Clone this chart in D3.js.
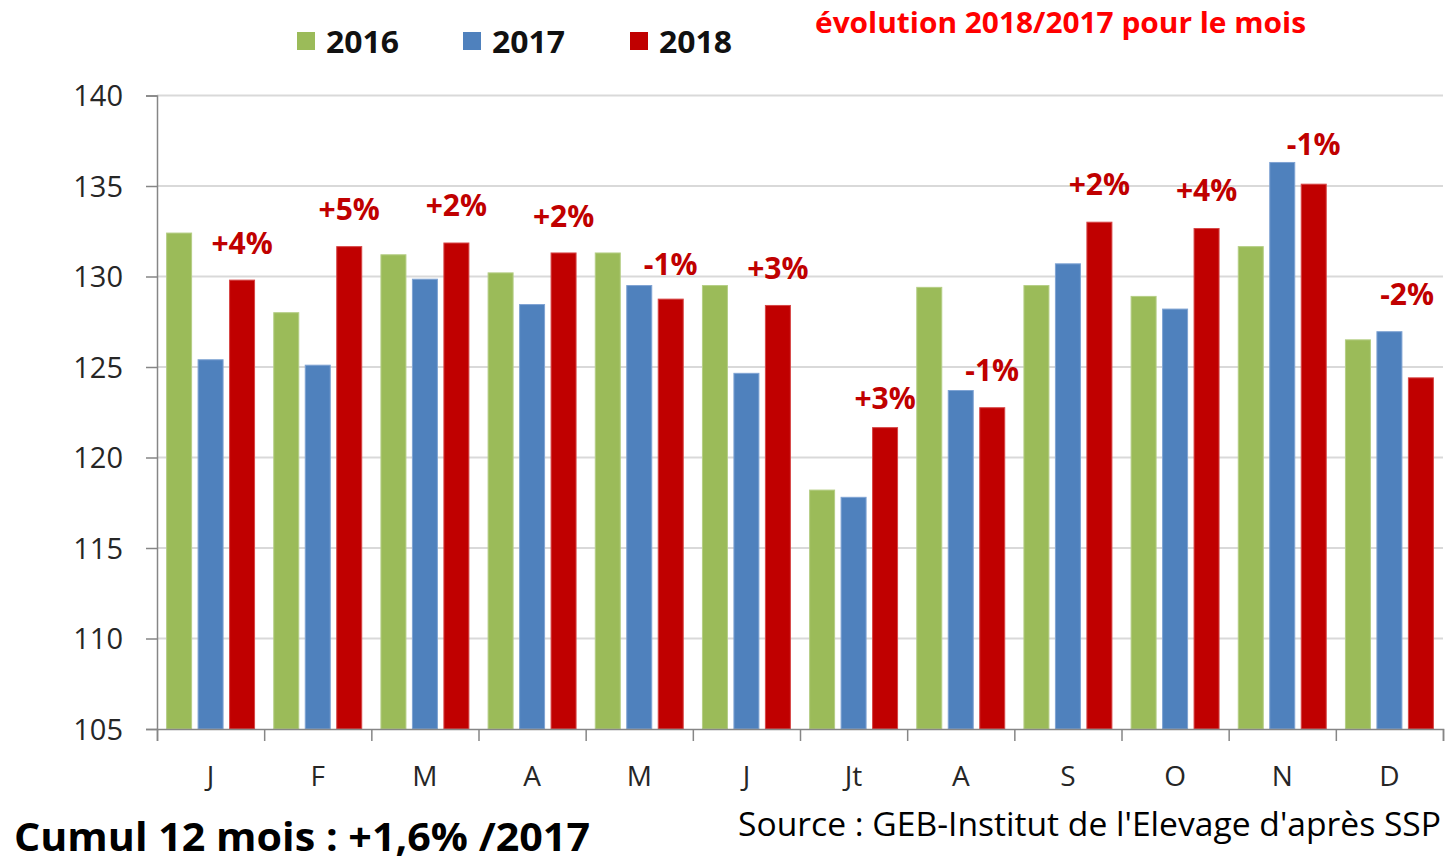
<!DOCTYPE html>
<html>
<head>
<meta charset="utf-8">
<script src="https://cdn.jsdelivr.net/npm/d3@7"></script>
<style>
  body { margin: 0; background: #fff; }
  svg { display: block; }
</style>
</head>
<body>
<svg width="1446" height="863"></svg>
<script>
// month labels (x axis)
let months = ["J", "F", "M", "A", "M", "J", "Jt", "A", "S", "O", "N", "D"];
let years = ["2016", "2017", "2018"];

// monthly values by year
let values2016 = [132.4, 128.0, 131.2, 130.2, 131.3, 129.5, 118.2, 129.4, 129.5, 128.9, 131.65, 126.5];
let values2017 = [125.4, 125.1, 129.85, 128.45, 129.5, 124.65, 117.8, 123.7, 130.7, 128.2, 136.3, 126.95];
let values2018 = [129.8, 131.65, 131.85, 131.3, 128.75, 128.4, 121.65, 122.75, 133.0, 132.65, 135.1, 124.4];

// evolution 2018/2017 labels and the level they sit at
let evoLabels = ["+4%", "+5%", "+2%", "+2%", "-1%", "+3%", "+3%", "-1%", "+2%", "+4%", "-1%", "-2%"];
let evoLevels = [131.25, 133.1, 133.35, 132.75, 130.1, 129.85, 122.7, 124.2, 134.5, 134.15, 136.7, 128.45];

let yTicks = [105, 110, 115, 120, 125, 130, 135, 140];

let colors = { "2016": "#9BBB59", "2017": "#4F81BD", "2018": "#C00000" };
let strokes = { "2016": "#B5CE85", "2017": "#7FA3D3", "2018": "#D64545" };

let svg = d3.select("svg");
let plotLeft = 157, plotRight = 1443, plotTop = 95.5, plotBottom = 729;
let font = "'Open Sans', sans-serif";

let x0 = d3.scaleBand().domain(d3.range(months.length)).range([plotLeft, plotRight]).padding(0);
let x1 = d3.scaleBand().domain(years).range([0, x0.bandwidth()]).paddingInner(0.206).paddingOuter(0.305);
let y = d3.scaleLinear().domain([105, 140]).range([plotBottom, plotTop]);

// gridlines
svg.append("g").selectAll("line").data(yTicks.filter(d => d > 105)).enter().append("line")
  .attr("x1", plotLeft).attr("x2", plotRight)
  .attr("y1", d => y(d)).attr("y2", d => y(d))
  .attr("stroke", "#D9D9D9").attr("stroke-width", 2);

// bars
let rows = months.map(function(m, i) {
  return { i: i, vals: [values2016[i], values2017[i], values2018[i]] };
});
let groups = svg.append("g").selectAll("g").data(rows).enter().append("g")
  .attr("transform", d => "translate(" + x0(d.i) + ",0)");
groups.selectAll("rect").data(d => d.vals.map((v, k) => ({ year: years[k], v: v }))).enter().append("rect")
  .attr("x", d => x1(d.year))
  .attr("width", x1.bandwidth())
  .attr("y", d => y(d.v))
  .attr("height", d => y(105) - y(d.v))
  .attr("fill", d => colors[d.year])
  .attr("stroke", d => strokes[d.year])
  .attr("stroke-width", 1);

// y axis
let yAxis = d3.axisLeft(y).tickValues(yTicks).tickSize(11).tickPadding(23);
let gy = svg.append("g").attr("transform", "translate(" + plotLeft + ",0)").call(yAxis);
gy.select(".domain").attr("stroke", "#868686").attr("stroke-width", 1.5);
gy.selectAll(".tick line").attr("stroke", "#868686").attr("stroke-width", 1.5);
gy.selectAll(".tick text").attr("font-family", font).attr("font-size", 29).attr("fill", "#262626")
  .attr("dy", "0.36em");

// x axis
let xAxis = d3.axisBottom(d3.scaleLinear().domain([0, 12]).range([plotLeft, plotRight]))
  .tickValues(d3.range(13)).tickSize(12).tickFormat("");
let gx = svg.append("g").attr("transform", "translate(0," + plotBottom + ")").call(xAxis);
gx.select(".domain").attr("stroke", "#868686").attr("stroke-width", 1.5);
gx.selectAll(".tick line").attr("stroke", "#868686").attr("stroke-width", 1.5);

svg.append("g").selectAll("text").data(months).enter().append("text")
  .attr("x", (d, i) => x0(i) + x0.bandwidth() / 2)
  .attr("y", 786)
  .attr("text-anchor", "middle")
  .attr("font-family", font).attr("font-size", 28).attr("fill", "#262626")
  .text(d => d);

// evolution labels over 2018 bars, kept inside the plot on the right
svg.append("g").selectAll("text").data(evoLabels).enter().append("text")
  .attr("y", (d, i) => y(evoLevels[i]))
  .attr("text-anchor", "middle")
  .attr("font-family", font).attr("font-weight", "bold").attr("font-size", 30).attr("fill", "#C00000")
  .text(d => d)
  .attr("x", function(d, i) {
    let cx = x0(i) + x1("2018") + x1.bandwidth() / 2;
    let half = this.getComputedTextLength() / 2;
    return Math.min(cx, plotRight - 9 - half);
  });

// legend
let legendX = [297, 463, 630];
let legend = svg.append("g").selectAll("g").data(years).enter().append("g")
  .attr("transform", (d, i) => "translate(" + legendX[i] + ",0)");
legend.append("rect").attr("x", 0).attr("y", 32).attr("width", 18).attr("height", 18)
  .attr("fill", d => colors[d]);
legend.append("text").attr("x", 29).attr("y", 53)
  .attr("font-family", font).attr("font-weight", "bold").attr("font-size", 31).attr("fill", "#111")
  .attr("textLength", 73).attr("lengthAdjust", "spacingAndGlyphs")
  .text(d => d);

// header note
svg.append("text").attr("x", 815).attr("y", 33)
  .attr("font-family", font).attr("font-weight", "bold").attr("font-size", 28).attr("fill", "#FF0000")
  .attr("textLength", 491).attr("lengthAdjust", "spacingAndGlyphs")
  .text("évolution 2018/2017 pour le mois");

// footer
svg.append("text").attr("x", 14).attr("y", 851)
  .attr("font-family", font).attr("font-weight", "bold").attr("font-size", 40).attr("fill", "#000")
  .attr("textLength", 576).attr("lengthAdjust", "spacingAndGlyphs")
  .text("Cumul 12 mois : +1,6% /2017");

svg.append("text").attr("x", 738).attr("y", 836)
  .attr("font-family", font).attr("font-size", 33).attr("fill", "#000")
  .attr("textLength", 703).attr("lengthAdjust", "spacingAndGlyphs")
  .text("Source : GEB-Institut de l'Elevage d'après SSP");
</script>
</body>
</html>
